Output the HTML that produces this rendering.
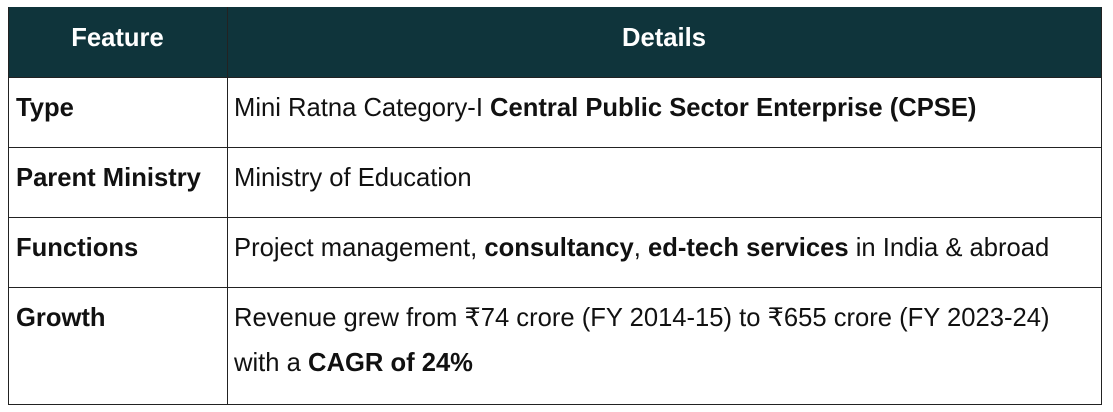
<!DOCTYPE html>
<html><head><style>
body{margin:0;width:1113px;height:412px;background:#fff;position:relative;font-family:"Liberation Sans",sans-serif;overflow:hidden}
.h{position:absolute;left:8px;top:7px;width:1093px;height:70px;background:#0f343b}
.l{position:absolute;background:#222}
.t{position:absolute;font-size:25.6px;color:#111;white-space:nowrap;line-height:26px}
.w{color:#fff;font-weight:bold}
b{font-weight:bold}
</style></head><body>
<div class="h"></div>
<div class="l" style="left:8px;top:7px;width:1px;height:397px"></div>
<div class="l" style="left:1101px;top:7px;width:1px;height:397px"></div>
<div class="l" style="left:227px;top:7px;width:1px;height:397px"></div>
<div class="l" style="left:8px;top:77px;width:1094px;height:1px"></div>
<div class="l" style="left:8px;top:147px;width:1094px;height:1px"></div>
<div class="l" style="left:8px;top:217px;width:1094px;height:1px"></div>
<div class="l" style="left:8px;top:287px;width:1094px;height:1px"></div>
<div class="l" style="left:8px;top:404px;width:1094px;height:1px"></div>
<div class="t w" style="left:8px;width:219px;text-align:center;top:25px">Feature</div>
<div class="t w" style="left:227px;width:874px;text-align:center;top:25px">Details</div>
<div class="t" style="left:16px;top:95px"><b>Type</b></div>
<div class="t" style="left:234px;top:95px">Mini Ratna Category-I <b>Central Public Sector Enterprise (CPSE)</b></div>
<div class="t" style="left:16px;top:165px"><b>Parent Ministry</b></div>
<div class="t" style="left:234px;top:165px">Ministry of Education</div>
<div class="t" style="left:16px;top:235px"><b>Functions</b></div>
<div class="t" style="left:234px;top:235px">Project management, <b>consultancy</b>, <b>ed-tech services</b> in India &amp; abroad</div>
<div class="t" style="left:16px;top:305px"><b>Growth</b></div>
<div class="t" style="left:234px;top:305px">Revenue grew from ₹74 crore (FY 2014-15) to ₹655 crore (FY 2023-24)</div>
<div class="t" style="left:234px;top:350px">with a <b>CAGR of 24%</b></div>
</body></html>
